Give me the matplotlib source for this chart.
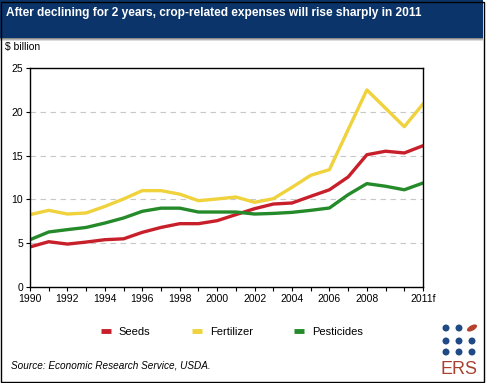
import matplotlib.pyplot as plt
import numpy as np
from matplotlib.patches import Rectangle, Ellipse

plt.rcParams['font.family'] = ['Liberation Sans', 'DejaVu Sans']

years = list(range(1990, 2012))
seeds = [4.57, 5.17, 4.9, 5.13, 5.4, 5.5, 6.24, 6.8, 7.23, 7.23,
         7.57, 8.26, 8.94, 9.47, 9.59, 10.35, 11.1, 12.56, 15.1, 15.5, 15.3, 16.13]
fertilizer = [8.26, 8.75, 8.33, 8.45, 9.2, 10.05, 11.0, 11.0, 10.6, 9.85,
              10.05, 10.27, 9.67, 10.08, 11.38, 12.75, 13.4, 17.96, 22.5, 20.4, 18.3, 20.9]
pesticides = [5.4, 6.28, 6.55, 6.8, 7.3, 7.88, 8.64, 9.0, 9.0, 8.56,
              8.56, 8.56, 8.33, 8.4, 8.52, 8.75, 9.02, 10.54, 11.8, 11.5, 11.1, 11.87]
tick_years = [1990, 1992, 1994, 1996, 1998, 2000, 2002, 2004, 2006, 2008, 2011]
tick_labels = ['1990', '1992', '1994', '1996', '1998', '2000', '2002', '2004',
               '2006', '2008', '2011f']

title = "After declining for 2 years, crop-related expenses will rise sharply in 2011"

W, H = 488, 383
fig = plt.figure(figsize=(W / 100, H / 100), dpi=100)

# header band
fig.patches.append(Rectangle((0, 1 - 38 / H), (W - 5) / W, 38 / H, transform=fig.transFigure,
                             facecolor='#0b356a', edgecolor='none', zorder=0))
for i, c in enumerate(['#8a8a8a', '#b5b5b5', '#dcdcdc']):
    fig.patches.append(Rectangle((0, 1 - (39 + i) / H), (W - 5) / W, 1 / H,
                                 transform=fig.transFigure, facecolor=c, edgecolor='none', zorder=0))
fig.text(6 / W, 1 - 13 / H, title, color='white', fontsize=8.6, fontweight='bold',
         va='center', ha='left')

# outer border
fig.patches.append(Rectangle((1 / W, 1 / H), (W - 5) / W, (H - 3) / H, transform=fig.transFigure,
                             facecolor='none', edgecolor='black', linewidth=1, zorder=5))

ax = fig.add_axes([30 / W, 96 / H, 393 / W, 219 / H])
ax.plot(years, seeds, color='#c8202a', lw=2.4, label='Seeds', solid_capstyle='round')
ax.plot(years, fertilizer, color='#efd23c', lw=2.4, label='Fertilizer', solid_capstyle='round')
ax.plot(years, pesticides, color='#258a2a', lw=2.4, label='Pesticides', solid_capstyle='round')

ax.set_xlim(1990, 2011)
ax.set_ylim(0, 25)
ax.set_yticks([0, 5, 10, 15, 20, 25])
ax.set_xticks(tick_years)
ax.set_xticklabels(tick_labels)
ax.set_xticks(years, minor=True)
ax.tick_params(axis='both', labelsize=7.5, direction='out', length=3, width=0.8, pad=2)
ax.tick_params(axis='x', which='minor', length=3, width=0.8)
for v in [5, 10, 15, 20]:
    ax.axhline(v, color='#c8c8c8', lw=0.8, ls=(0, (5, 4)), zorder=0)
for s in ax.spines.values():
    s.set_linewidth(1)

fig.text(5 / W, 1 - 47 / H, '$ billion', fontsize=7.5, va='center', ha='left')

leg = fig.legend(loc='center', bbox_to_anchor=(232 / W, 1 - 332 / H), ncol=3, frameon=False,
                 fontsize=8, handlelength=0.9, handletextpad=0.7, columnspacing=3.75)
for h in leg.legend_handles:
    h.set_linewidth(3.5)
    h.set_solid_capstyle('butt')

fig.text(11 / W, 1 - 365 / H, 'Source: Economic Research Service, USDA.', fontsize=7.2,
         style='italic', va='center', ha='left')

# ERS logo
dots_x = [446, 459, 446, 459, 472, 446, 459, 472]
dots_y = [328, 328, 341, 341, 341, 352, 352, 352]
fig.patches.append(Ellipse((472 / W, 1 - 328 / H), 12 / W, 5 / H, angle=40,
                           transform=fig.transFigure, facecolor='#b5412f',
                           edgecolor='none', zorder=6))
for dx, dy in zip(dots_x, dots_y):
    fig.patches.append(Ellipse((dx / W, 1 - dy / H), 7 / W, 7 / H, transform=fig.transFigure,
                               facecolor='#1f4a86', edgecolor='none', zorder=6))
fig.text(459 / W, 1 - 370 / H, 'ERS', color='#a8402f', fontsize=13, ha='center', va='center')

fig.savefig('out.png', dpi=100)
